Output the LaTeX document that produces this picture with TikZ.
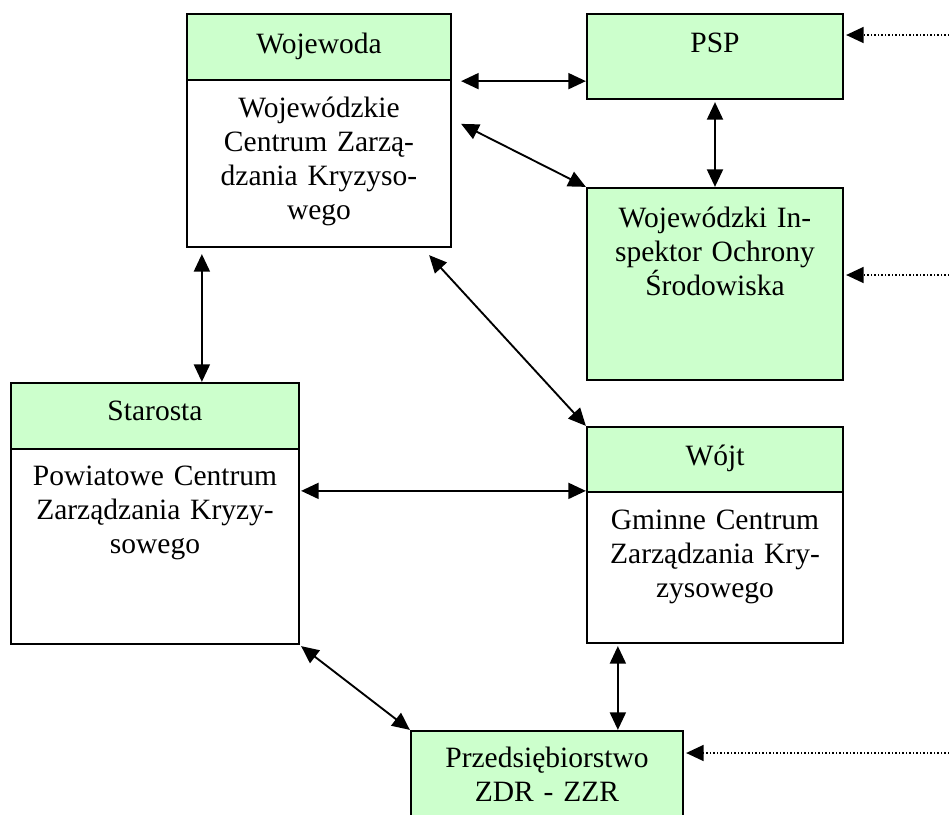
\documentclass[tikz,border=0pt]{standalone}
\usepackage{fontspec}
\setmainfont{Liberation Serif}
\usetikzlibrary{arrows.meta,fit,calc}
\definecolor{lightgreen}{RGB}{204,255,204}
\begin{document}
\begin{tikzpicture}[x=0.4pt,y=-0.4pt,
  box/.style={draw=black, line width=0.9pt, inner sep=0pt, fill=white},
  gbox/.style={box, fill=lightgreen},
  txt/.style={text width=112pt, align=center, anchor=base, inner sep=0pt, font=\fontsize{11.8}{13.6}\selectfont},
  link/.style={line width=0.75pt, {Triangle[length=7pt,width=6.4pt]}-{Triangle[length=7pt,width=6.4pt]}},
  dotlink/.style={line width=0.6pt, dash pattern=on 0.6pt off 0.8pt, -{Triangle[length=7pt,width=6.4pt]}}]
\useasboundingbox (0,0) rectangle (949,815);
\clip (0,0) rectangle (949,815);

% boxes
\node[gbox, fit={(187,14) (451,80)}] (wojh) {};
\node[box, fit={(187,80) (451,247)}] (wojb) {};
\node[gbox, fit={(587,14) (843,99)}] (psp) {};
\node[gbox, fit={(587,188) (843,380)}] (wios) {};
\node[gbox, fit={(11,383) (299,449)}] (starh) {};
\node[box, fit={(11,449) (299,644)}] (starb) {};
\node[gbox, fit={(587,427) (843,492)}] (wojth) {};
\node[box, fit={(587,492) (843,643)}] (wojtb) {};
\node[gbox, fit={(411,731) (683,850)}] (przed) {};

% texts
\node[txt] (t1) at (319,53) {Wojewoda};
\node[txt] (t2) at (319,117) {Wojewódzkie\\Centrum Zarzą-\\dzania Kryzyso-\\wego};
\node[txt] (t3) at (715,52) {PSP};
\node[txt] (t4) at (715,227) {Wojewódzki In-\\spektor Ochrony\\Środowiska};
\node[txt] (t5) at (155,420) {Starosta};
\node[txt] (t6) at (155,485) {Powiatowe Centrum\\Zarządzania Kryzy-\\sowego};
\node[txt] (t7) at (715,465) {Wójt};
\node[txt] (t8) at (715,529) {Gminne Centrum\\Zarządzania Kry-\\zysowego};
\node[txt] (t9) at (547,767) {Przedsiębiorstwo\\ZDR - ZZR};

% connectors
\draw[link] ($(wojh.south east)+(9,0)$) -- (psp.west |- wojh.south);
\draw[link] ($(wojb.north east)+(9,45)$) -- (wios.north west);
\draw[link] ($(psp.south)+(0,2)$) -- (wios.north);
\draw[link] ($(wojb.south west)+(16,6)$) -- (starh.north west -| {$(wojb.south west)+(16,6)$});
\draw[link] ($(wojb.south east)+(-23,7)$) -- (wojth.north west);
\draw[link] ($(starb.north east)+(1,43)$) -- (wojtb.north west);
\draw[link] ($(starb.south east)+(1,1)$) -- (przed.north west);
\draw[link] ($(wojtb.south west)+(32,2)$) -- (przed.north -| {$(wojtb.south west)+(32,2)$});

% dotted inputs
\coordinate (in1) at (949,35);
\coordinate (in2) at (949,275);
\coordinate (in3) at (949,753);
\draw[dotlink] (in1) -- ($(psp.east |- in1)+(2,0)$);
\draw[dotlink] (in2) -- ($(wios.east |- in2)+(2,0)$);
\draw[dotlink] (in3) -- ($(przed.east |- in3)+(2,0)$);
\end{tikzpicture}
\end{document}
